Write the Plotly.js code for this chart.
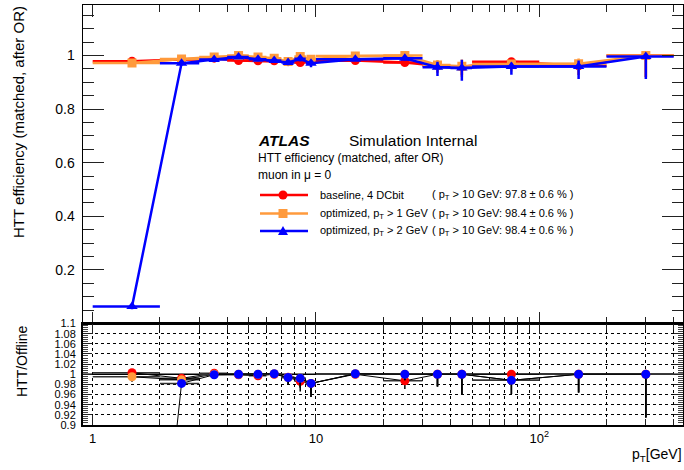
<!DOCTYPE html>
<html><head><meta charset="utf-8">
<script src="https://cdn.plot.ly/plotly-3.0.1.min.js"></script>
<style>html,body{margin:0;padding:0;background:#fff}#chart{width:684px;height:470px}</style>
</head><body><div id="chart"></div>
<script>
// pT bins (GeV): centres and half widths
const ptCenters   = [1.5,2.5,3.5,4.5,5.5,6.5,7.5,8.5,9.5,15,25,35,45,75,150,300];
const ptHalfWidth = [0.5,0.5,0.5,0.5,0.5,0.5,0.5,0.5,0.5,5,5,5,5,25,50,100];

// top panel efficiencies
const effBaseline = [0.979,0.985,0.990,0.981,0.980,0.980,0.977,0.974,0.980,0.981,0.974,0.962,0.958,0.977,0.962,1.000];
const effBaselineUp = [0.004,0.004,0.003,0.004,0.004,0.004,0.005,0.006,0.006,0.004,0.007,0.015,0.018,0.010,0.016,0.000];
const effBaselineDn = [0.005,0.006,0.005,0.006,0.006,0.007,0.008,0.010,0.010,0.006,0.012,0.025,0.032,0.022,0.035,0.080];

const effPt1 = [0.972,0.987,0.994,1.000,0.994,0.990,0.978,0.996,0.986,0.998,1.000,0.965,0.960,0.968,0.969,1.000];
const effPt1Up = [0.004,0.004,0.003,0.000,0.003,0.004,0.005,0.003,0.005,0.002,0.000,0.018,0.025,0.012,0.020,0.000];
const effPt1Dn = [0.005,0.006,0.005,0.005,0.006,0.007,0.008,0.008,0.010,0.005,0.008,0.028,0.040,0.028,0.042,0.082];

const effPt2 = [0.063,0.971,0.985,0.994,0.986,0.981,0.974,0.988,0.971,0.986,0.990,0.956,0.953,0.959,0.959,0.996];
const effPt2Up = [0.010,0.006,0.004,0.003,0.004,0.005,0.006,0.005,0.007,0.004,0.005,0.021,0.031,0.014,0.022,0.004];
const effPt2Dn = [0.010,0.008,0.006,0.006,0.007,0.008,0.010,0.009,0.015,0.006,0.009,0.032,0.047,0.031,0.047,0.084];

// ratio panel HTT/Offline
const ratioBaseline = [1.003,0.992,1.002,0.999,0.997,1.000,0.994,0.986,0.982,1.000,0.987,1.000,1.000,1.000,1.000,1.000];
const ratioPt1      = [0.995,0.989,1.000,1.000,1.000,1.001,0.9935,0.992,0.982,1.001,1.000,1.000,1.000,0.988,1.000,1.000];
const ratioPt2      = [0.064,0.982,0.999,1.000,1.000,1.001,0.9935,0.992,0.982,1.001,1.000,1.000,1.000,0.988,1.000,1.000];
const ratioUp = [0.002,0.003,0.002,0.002,0.002,0.002,0.003,0.004,0.004,0.000,0.003,0.000,0.000,0.003,0.000,0.000];
const ratioBaseDn = [0.004,0.006,0.004,0.004,0.005,0.005,0.010,0.020,0.020,0.006,0.016,0.024,0.039,0.020,0.036,0.085];
const ratioPt2Dn  = [0.010,0.008,0.004,0.004,0.005,0.005,0.0135,0.018,0.027,0.006,0.012,0.024,0.039,0.027,0.036,0.085];

const seriesNames = ['baseline, 4 DCbit','optimized, p<sub>T</sub> > 1 GeV','optimized, p<sub>T</sub> > 2 GeV'];
const seriesSummary = ['( p<sub>T</sub> > 10 GeV: 97.8 ± 0.6 % )','( p<sub>T</sub> > 10 GeV: 98.4 ± 0.6 % )','( p<sub>T</sub> > 10 GeV: 98.4 ± 0.6 % )'];
const colors = ['#ff0000','#ff9a3c','#0000ff'];
const symbols = ['circle','square','triangle-up'];

const xMajor = [1,10,100];
const xMajorText = ['1','10','10<sup>2</sup>'];
const xMinor = [2,3,4,5,6,7,8,9,20,30,40,50,60,70,80,90,200,300,400];
const yTopVals = [0.2,0.4,0.6,0.8,1];
const yTopText = ['0.2','0.4','0.6','0.8','1'];
const yRatioVals = [0.9,0.92,0.94,0.96,0.98,1.0,1.02,1.04,1.06,1.08,1.1];
const yRatioText = ['0.9','0.92','0.94','0.96','0.98','1','1.02','1.04','1.06','1.08','1.1'];

const W = 684, H = 470;
const px = v => v / W, py = v => 1 - v / H;
const FONT = 'Liberation Sans, Arial, sans-serif';

function topTrace(y, up, dn, i) {
  return {
    x: ptCenters, y: y, xaxis: 'x', yaxis: 'y', type: 'scatter', mode: 'lines+markers',
    name: seriesNames[i], showlegend: false, cliponaxis: true,
    line: {color: colors[i], width: 2.5},
    marker: {color: colors[i], symbol: symbols[i], size: i === 2 ? 10 : 9},
    error_x: {type: 'data', array: ptHalfWidth, color: colors[i], thickness: 2.5, width: 0},
    error_y: {type: 'data', symmetric: false, array: up, arrayminus: dn, color: colors[i], thickness: 2.5, width: 0}
  };
}
function ratioTrace(y, up, dn, i) {
  return {
    x: ptCenters, y: y, xaxis: 'x2', yaxis: 'y2', type: 'scatter', mode: 'lines+markers',
    showlegend: false, cliponaxis: true,
    line: {color: '#000', width: 1},
    marker: {color: colors[i], symbol: 'circle', size: 9},
    error_x: {type: 'data', array: ptHalfWidth, color: '#333', thickness: 1.5, width: 0},
    error_y: {type: 'data', symmetric: false, array: up, arrayminus: dn, color: '#000', thickness: 1.5, width: 0}
  };
}

const data = [
  topTrace(effBaseline, effBaselineUp, effBaselineDn, 0),
  topTrace(effPt1, effPt1Up, effPt1Dn, 1),
  topTrace(effPt2, effPt2Up, effPt2Dn, 2),
  ratioTrace(ratioBaseline, ratioUp, ratioBaseDn, 0),
  ratioTrace(ratioPt1, ratioUp, ratioPt2Dn, 1),
  ratioTrace(ratioPt2, ratioUp, ratioPt2Dn, 2)
];

const xRange = [-0.0434, 2.6436];
const dom = [px(83), px(683)];
const commonX = {
  type: 'log', range: xRange, domain: dom, showline: true, linecolor: '#000', linewidth: 1.5,
  mirror: 'allticks', ticks: 'inside', tickcolor: '#222', tickwidth: 1,
  tickmode: 'array', tickvals: xMajor, ticktext: xMajorText, zeroline: false
};

// hand-built legend (line sample + marker + label), ROOT style
const legRows = [195, 213.5, 231];
const legendShapes = [];
const legendAnn = [];
legRows.forEach((ry, i) => {
  legendShapes.push({type: 'line', xref: 'paper', yref: 'paper', x0: px(260), x1: px(308), y0: py(ry), y1: py(ry),
                     line: {color: colors[i], width: 2.5}, layer: 'above'});
  const cx = 283;
  if (symbols[i] === 'circle') {
    legendShapes.push({type: 'circle', xref: 'paper', yref: 'paper', x0: px(cx - 4.5), x1: px(cx + 4.5),
                       y0: py(ry + 4.5), y1: py(ry - 4.5), fillcolor: colors[i], line: {width: 0}, layer: 'above'});
  } else if (symbols[i] === 'square') {
    legendShapes.push({type: 'rect', xref: 'paper', yref: 'paper', x0: px(cx - 4.5), x1: px(cx + 4.5),
                       y0: py(ry + 4.5), y1: py(ry - 4.5), fillcolor: colors[i], line: {width: 0}, layer: 'above'});
  } else {
    const p = `M ${px(cx - 5)} ${py(ry + 4)} L ${px(cx + 5)} ${py(ry + 4)} L ${px(cx)} ${py(ry - 5)} Z`;
    legendShapes.push({type: 'path', xref: 'paper', yref: 'paper', path: p, fillcolor: colors[i], line: {width: 0}, layer: 'above'});
  }
  legendAnn.push({text: seriesNames[i], x: px(318), y: py(ry), xref: 'paper', yref: 'paper',
                  xanchor: 'left', yanchor: 'middle', showarrow: false, font: {size: 11, family: FONT}});
  legendAnn.push({text: seriesSummary[i], x: px(430), y: py(ry), xref: 'paper', yref: 'paper',
                  xanchor: 'left', yanchor: 'middle', showarrow: false, font: {size: 11, family: FONT}});
});

const layout = {
  width: W, height: H, margin: {l: 0, r: 0, t: 0, b: 0},
  paper_bgcolor: '#fff', plot_bgcolor: '#fff',
  font: {family: FONT, color: '#000'},
  showlegend: false,
  xaxis: Object.assign({}, commonX, {
    anchor: 'y', showticklabels: false, ticklen: 12, showgrid: false,
    minor: {tickmode: 'array', tickvals: xMinor, ticks: 'inside', ticklen: 7, tickcolor: '#222', showgrid: false}
  }),
  yaxis: {
    domain: [py(323.5), py(5)], range: [0, 1.1885], anchor: 'x',
    showline: true, linecolor: '#000', linewidth: 1.5, mirror: 'allticks',
    ticks: 'inside', ticklen: 21, tickcolor: '#222', tickwidth: 1,
    tickmode: 'array', tickvals: yTopVals, ticktext: yTopText,
    tickfont: {size: 14, family: FONT}, ticklabelstandoff: 4,
    minor: {dtick: 0.05, tick0: 0, ticks: 'inside', ticklen: 11, tickcolor: '#222', showgrid: false},
    showgrid: false, zeroline: false
  },
  xaxis2: Object.assign({}, commonX, {
    anchor: 'y2', linewidth: 2, showticklabels: true, ticklen: 10,
    tickfont: {size: 13, family: FONT}, ticklabelstandoff: 0,
    showgrid: true, gridcolor: '#000', gridwidth: 1, griddash: 'dot',
    minor: {tickmode: 'array', tickvals: xMinor, ticks: 'inside', ticklen: 6, tickcolor: '#222',
            showgrid: true, gridcolor: '#000', gridwidth: 1, griddash: 'dot'}
  }),
  yaxis2: {
    domain: [py(425), py(323.5)], range: [0.9, 1.1], anchor: 'x2',
    showline: true, linecolor: '#000', linewidth: 2, mirror: 'allticks',
    ticks: 'inside', ticklen: 9, tickcolor: '#222', tickwidth: 1,
    tickmode: 'array', tickvals: yRatioVals, ticktext: yRatioText,
    tickfont: {size: 11, family: FONT}, ticklabelstandoff: 3,
    showgrid: true, gridcolor: '#000', gridwidth: 1, griddash: 'dot',
    minor: {dtick: 0.004, tick0: 0.9, ticks: 'inside', ticklen: 5, tickcolor: '#444', showgrid: false},
    zeroline: false
  },
  shapes: [
    {type: 'line', xref: 'paper', yref: 'y2', x0: dom[0], x1: dom[1], y0: 1, y1: 1,
     line: {color: '#000', width: 1.5}, layer: 'between'}
  ].concat(legendShapes),
  annotations: [
    {text: '<b><i>ATLAS</i></b>', x: px(256), y: py(140), xref: 'paper', yref: 'paper',
     xanchor: 'left', yanchor: 'middle', showarrow: false, font: {size: 15.5, family: FONT}},
    {text: 'Simulation Internal', x: px(347), y: py(140), xref: 'paper', yref: 'paper',
     xanchor: 'left', yanchor: 'middle', showarrow: false, font: {size: 15.5, family: FONT}},
    {text: 'HTT efficiency (matched, after OR)', x: px(256), y: py(158.5), xref: 'paper', yref: 'paper',
     xanchor: 'left', yanchor: 'middle', showarrow: false, font: {size: 12, family: FONT}},
    {text: 'muon in μ = 0', x: px(256), y: py(175), xref: 'paper', yref: 'paper',
     xanchor: 'left', yanchor: 'middle', showarrow: false, font: {size: 12, family: FONT}},
    {text: 'HTT efficiency (matched, after OR)', x: px(18), y: py(4), xref: 'paper', yref: 'paper',
     xanchor: 'center', yanchor: 'top', textangle: -90, showarrow: false, font: {size: 15, family: FONT}},
    {text: 'HTT/Offline', x: px(22), y: py(323), xref: 'paper', yref: 'paper',
     xanchor: 'center', yanchor: 'top', textangle: -90, showarrow: false, font: {size: 14, family: FONT}},
    {text: 'p<sub>T</sub>[GeV]', x: px(684), y: py(455), xref: 'paper', yref: 'paper',
     xanchor: 'right', yanchor: 'middle', showarrow: false, font: {size: 14, family: FONT}}
  ].concat(legendAnn)
};

Plotly.newPlot('chart', data, layout, {staticPlot: true, displayModeBar: false});
</script></body></html>
